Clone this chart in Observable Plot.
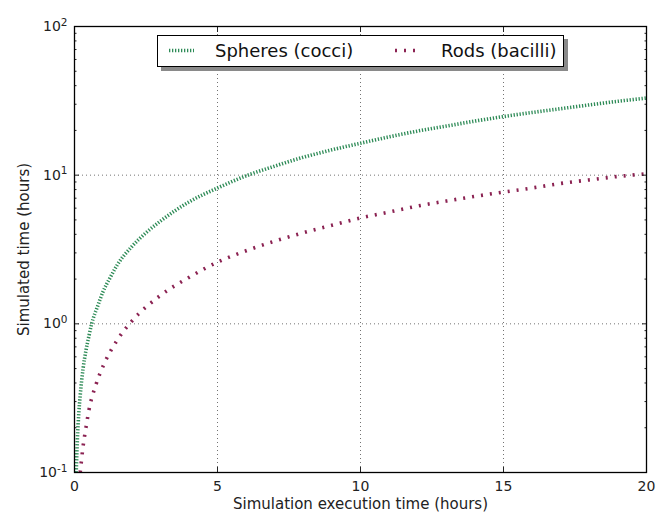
<!DOCTYPE html>
<html>
<head>
<meta charset="utf-8">
<script src="https://cdn.jsdelivr.net/npm/d3@7"></script>
<script src="https://cdn.jsdelivr.net/npm/@observablehq/plot@0.6"></script>
<style>
  html, body { margin: 0; padding: 0; background: #fff; }
  #wrap { position: relative; width: 657px; height: 514px; font-family: "DejaVu Sans", sans-serif; }
  #legend { position: absolute; left: 157px; top: 35px; width: 405px; height: 30px; border: 1.3px solid #000;
            background: #fff; box-shadow: 4px 4px 0 #8a8a8a; font-size: 18px; color: #111; }
  #legend .item { position: absolute; top: 0; height: 30px; line-height: 30px; white-space: nowrap; }
  #legend svg { position: absolute; top: 0; }
</style>
</head>
<body>
<div id="wrap"></div>
<script>
// Data
const seriesNames = ["Spheres (cocci)", "Rods (bacilli)"];
const seriesColors = ["#2e8b57", "#8b2252"];

const spheresX = [0.06, 0.1, 0.15, 0.2, 0.3, 0.4, 0.5, 0.6, 0.8, 1, 1.25, 1.5, 2, 2.5, 3, 4, 5, 6, 7, 8, 9, 10, 11, 12, 13, 14, 15, 16, 17, 18, 19, 20];
const spheresY = [0.1, 0.165, 0.25, 0.33, 0.5, 0.66, 0.82, 1.0, 1.3, 1.65, 2.05, 2.5, 3.3, 4.1, 4.9, 6.6, 8.2, 9.9, 11.5, 13.2, 14.8, 16.4, 18.1, 19.8, 21.4, 23.1, 24.8, 26.4, 28.0, 29.7, 31.4, 33.0];

const rodsX = [0.2, 0.3, 0.4, 0.5, 0.75, 1, 1.5, 2, 3, 4, 5, 6, 7, 8, 9, 10, 11, 12, 13, 14, 15, 16, 17, 18, 19, 20];
const rodsY = [0.1, 0.15, 0.2, 0.26, 0.39, 0.52, 0.78, 1.04, 1.55, 2.05, 2.6, 3.1, 3.6, 4.1, 4.6, 5.15, 5.65, 6.2, 6.7, 7.2, 7.7, 8.2, 8.8, 9.3, 9.8, 10.2];

const xTicks = [0, 5, 10, 15, 20];
const xTickLabels = ["0", "5", "10", "15", "20"];
const yTicks = [0.1, 1, 10, 100];
const yTickBase = "10";
const yTickExponents = ["-1", "0", "1", "2"];
const yMinorTicks = [0.2,0.3,0.4,0.5,0.6,0.7,0.8,0.9, 2,3,4,5,6,7,8,9, 20,30,40,50,60,70,80,90];
const xLabel = "Simulation execution time (hours)";
const yLabel = "Simulated time (hours)";

const spheres = spheresX.map((x, i) => ({x, y: spheresY[i]}));
const rods = rodsX.map((x, i) => ({x, y: rodsY[i]}));

const fmtX = d => xTickLabels[xTicks.indexOf(d)];
const fmtY = d => yTickBase + "^" + yTickExponents[yTicks.findIndex(t => Math.abs(t - d) < 1e-9)];

const chart = Plot.plot({
  width: 657,
  height: 514,
  marginLeft: 74,
  marginRight: 11,
  marginTop: 26,
  marginBottom: 42,
  style: {fontFamily: "DejaVu Sans, sans-serif", fontSize: "15px", color: "#222", background: "#fff"},
  x: {domain: [0, 20]},
  y: {type: "log", domain: [0.1, 100]},
  marks: [
    Plot.gridX([5, 10, 15], {stroke: "#000", strokeOpacity: 0.55, strokeDasharray: "1,3", strokeWidth: 1}),
    Plot.gridY([1, 10], {stroke: "#000", strokeOpacity: 0.55, strokeDasharray: "1,3", strokeWidth: 1}),
    Plot.line(spheres, {x: "x", y: "y", stroke: seriesColors[0], strokeWidth: 3.6, strokeDasharray: "1.3,1.7", strokeLinecap: "butt", clip: true, curve: "monotone-x"}),
    Plot.line(rods, {x: "x", y: "y", stroke: seriesColors[1], strokeWidth: 3.6, strokeDasharray: "2,7", strokeLinecap: "butt", clip: true, curve: "monotone-x"}),
    // axes: labels
    Plot.axisX(xTicks, {anchor: "bottom", tickSize: 0, tickPadding: 9, tickFormat: fmtX, label: xLabel, labelAnchor: "center", labelOffset: 36, labelArrow: "none", fontSize: 14}),
    Plot.axisY(yTicks, {anchor: "left", tickSize: 0, tickPadding: 7, tickFormat: fmtY, label: yLabel, labelAnchor: "center", labelOffset: 56, labelArrow: "none", fontSize: 14}),
    // inward major ticks
    Plot.axisX(xTicks, {anchor: "bottom", tickSize: -5, tickFormat: () => "", label: null}),
    Plot.axisX(xTicks, {anchor: "top", tickSize: -5, tickFormat: () => "", label: null}),
    Plot.axisY(yTicks, {anchor: "left", tickSize: -5, tickFormat: () => "", label: null}),
    Plot.axisY(yTicks, {anchor: "right", tickSize: -5, tickFormat: () => "", label: null}),
    // inward minor ticks
    Plot.axisY(yMinorTicks, {anchor: "left", tickSize: -2.5, tickFormat: () => "", label: null}),
    Plot.axisY(yMinorTicks, {anchor: "right", tickSize: -2.5, tickFormat: () => "", label: null}),
    Plot.frame({stroke: "#000", strokeWidth: 1.3})
  ]
});

// Turn "10^e" tick labels into base + superscript tspans; enlarge axis titles
d3.select(chart).selectAll("text").each(function() {
  const el = d3.select(this);
  const txt = this.textContent;
  if (txt === xLabel || txt === yLabel) { el.attr("font-size", "15px"); return; }
  if (!txt.includes("^")) return;
  const [base, exp] = txt.split("^");
  el.text(null);
  el.append("tspan").text(base);
  el.append("tspan").attr("dy", "-0.5em").attr("font-size", "10.5px").text(exp);
});
d3.select(chart).selectAll('g[aria-label="x-axis label"], g[aria-label="y-axis label"]').attr("font-size", "15px");

const wrap = document.getElementById("wrap");
wrap.appendChild(chart);

// Legend (HTML overlay)
const legend = document.createElement("div");
legend.id = "legend";
const items = [
  {name: seriesNames[0], color: seriesColors[0], dash: "1.3,1.7", sx: 11, sw: 25, tx: 57},
  {name: seriesNames[1], color: seriesColors[1], dash: "2,7", sx: 237, sw: 22, tx: 283}
];
for (const it of items) {
  const svg = d3.create("svg").attr("width", it.sw).attr("height", 30).style("left", it.sx + "px");
  svg.append("line").attr("x1", 0).attr("x2", it.sw).attr("y1", 14.5).attr("y2", 14.5)
    .attr("stroke", it.color).attr("stroke-width", 3.6).attr("stroke-dasharray", it.dash);
  legend.appendChild(svg.node());
  const t = document.createElement("div");
  t.className = "item";
  t.style.left = it.tx + "px";
  t.textContent = it.name;
  legend.appendChild(t);
}
wrap.appendChild(legend);
</script>
</body>
</html>
